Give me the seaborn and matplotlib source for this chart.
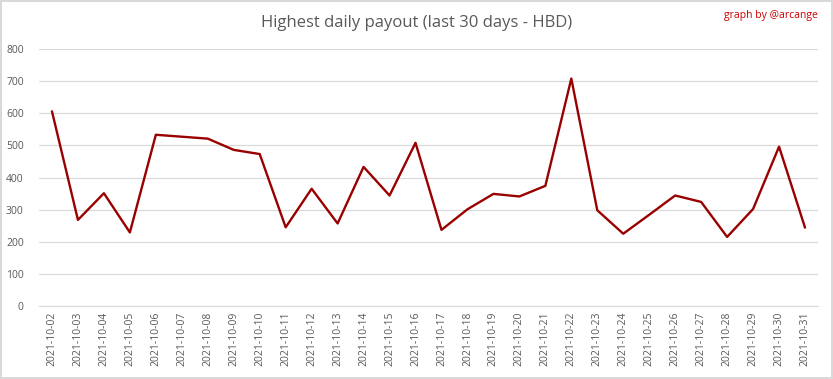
import pandas as pd
import matplotlib
matplotlib.use('Agg')
import matplotlib.pyplot as plt
import seaborn as sns

dates = ['2021-10-%02d' % d for d in range(2, 32)]
payout = [606, 268, 351, 229, 533, 527, 521, 486, 473, 245,
          365, 257, 433, 344, 508, 237, 301, 349, 341, 374,
          708, 298, 225, 284, 344, 324, 215, 302, 496, 244]

df = pd.DataFrame({'date': dates, 'payout': payout})

sns.set_style('white')
plt.rcParams['font.family'] = ['Open Sans', 'DejaVu Sans']

fig = plt.figure(figsize=(8.33, 3.79), dpi=100)
fig.patch.set_edgecolor('#d9d9d9')
fig.patch.set_linewidth(1.5)
ax = fig.add_axes([0.0468, 0.1926, 0.9352, 0.6781])

sns.lineplot(data=df, x='date', y='payout', ax=ax, color='#990000', linewidth=1.7)

ax.set_xlim(-0.5, len(dates) - 0.5)
ax.set_ylim(0, 800)
ax.set_yticks(range(0, 801, 100))
ax.yaxis.grid(True, color='#d9d9d9', linewidth=0.9)
ax.set_axisbelow(True)
for s in ['top', 'right', 'left']:
    ax.spines[s].set_visible(False)
ax.spines['bottom'].set_color('#d9d9d9')
ax.tick_params(axis='both', length=0, labelsize=7.5, labelcolor='#595959')
ax.tick_params(axis='x', rotation=90, pad=4)
ax.tick_params(axis='y', pad=11)
ax.set_xlabel('')
ax.set_ylabel('')

fig.text(0.5, 0.94, 'Highest daily payout (last 30 days - HBD)', ha='center', va='center',
         fontsize=12, color='#595959')
fig.text(0.982, 0.96, 'graph by @arcange', ha='right', va='center', fontsize=7.5, color='#cc0000')

fig.savefig('out.png', dpi=100)
